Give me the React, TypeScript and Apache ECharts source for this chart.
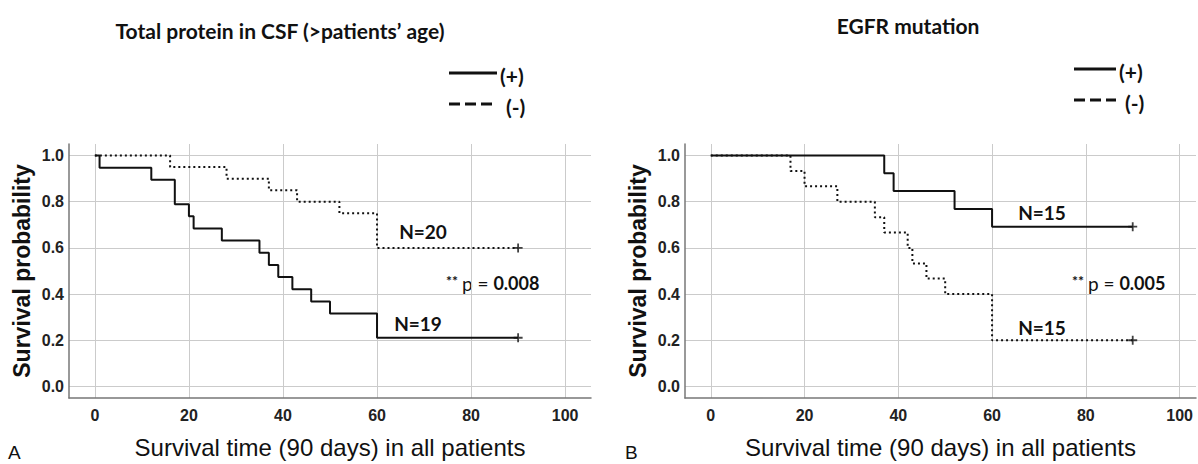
import React, { useEffect, useRef } from "react";
import * as echarts from "echarts";

// ---- data ----
const xTicks = [0, 20, 40, 60, 80, 100];
const yTicks = [0, 0.2, 0.4, 0.6, 0.8, 1.0];

const csfPosTime = [0, 1, 12, 17, 20, 21, 27, 35, 37, 39, 42, 46, 50, 60, 90];
const csfPosSurv = [1, 0.947, 0.895, 0.789, 0.737, 0.684, 0.632, 0.579, 0.526, 0.474, 0.421, 0.368, 0.316, 0.211, 0.211];
const csfNegTime = [0, 16, 28, 37, 43, 52, 60, 90];
const csfNegSurv = [1, 0.95, 0.9, 0.85, 0.8, 0.75, 0.6, 0.6];

const egfrPosTime = [0, 37, 39, 52, 60, 90];
const egfrPosSurv = [1, 0.923, 0.846, 0.769, 0.692, 0.692];
const egfrNegTime = [0, 17, 20, 27, 35, 37, 42, 43, 46, 50, 60, 90];
const egfrNegSurv = [1, 0.933, 0.867, 0.8, 0.733, 0.667, 0.6, 0.533, 0.467, 0.4, 0.2, 0.2];

const titles = ["Total protein in CSF (>patients\u2019 age)", "EGFR mutation"];
const legendLabels = ["(+)", "(-)"];
const nLabels = [["N=20", "N=19"], ["N=15", "N=15"]];
const pValues = ["0.008", "0.005"];
const panelLetters = ["A", "B"];
const xName = "Survival time (90 days) in all patients";
const yName = "Survival probability";

const zip = (t: number[], s: number[]) => t.map((v, i) => [v, s[i]]);
const PLUS = "path://M4,0H6V4H10V6H6V10H4V6H0V4H4Z";

export default function App() {
  const ref = useRef<HTMLDivElement>(null);
  useEffect(() => {
    if (!ref.current) return;
    const chart = echarts.init(ref.current, null, { renderer: "svg" });
    const tickFont = { fontFamily: "Liberation Sans", fontWeight: "bold" as const, fontSize: 16, color: "#222" };
    const mkX = (gridIndex: number, max: number) => ({
      type: "value", gridIndex, min: -5.5, max,
      axisLine: { show: true, onZero: false, lineStyle: { color: "#777", width: 1.5 } },
      axisTick: { show: false, customValues: xTicks },
      axisLabel: { ...tickFont, customValues: xTicks, margin: 9 },
      splitLine: { show: true, lineStyle: { color: "#cbcbcb", width: 1 } },
      name: xName, nameLocation: "middle", nameGap: 37,
      nameTextStyle: { fontFamily: "Liberation Sans", fontSize: 24, color: "#111" },
    });
    const mkY = (gridIndex: number) => ({
      type: "value", gridIndex, min: -0.05, max: 1.05,
      axisLine: { show: true, onZero: false, lineStyle: { color: "#777", width: 1.5 } },
      axisTick: { show: false, customValues: yTicks },
      axisLabel: { ...tickFont, customValues: yTicks, margin: 5, formatter: (v: number) => v.toFixed(1) },
      splitLine: { show: true, lineStyle: { color: "#cbcbcb", width: 1 } },
      name: yName, nameLocation: "middle", nameGap: 36,
      nameTextStyle: { fontFamily: "Liberation Sans", fontWeight: "bold", fontSize: 23, color: "#111" },
    });
    const solid = { color: "#111", width: 2, type: "solid" };
    const dotted = { color: "#111", width: 2, type: [2, 3], cap: "butt" };
    const km = (name: string, xi: number, data: number[][], ls: any) => ({
      type: "line", name, xAxisIndex: xi, yAxisIndex: xi, data, step: "end",
      showSymbol: false, symbol: "none", lineStyle: ls, silent: true,
    });
    const censor = (xi: number, data: number[][]) => ({
      type: "scatter", xAxisIndex: xi, yAxisIndex: xi, data, symbol: PLUS, symbolSize: 9,
      itemStyle: { color: "#111" }, silent: true,
    });
    const last = (t: number[], s: number[]) => [[t[t.length - 1], s[s.length - 1]]];

    const titleFont = "bold 21px Lato";
    const annFont = "bold 19px Lato";
    const legend = (x1: number, x2: number, y1: number, y2: number) => [
      { type: "line", shape: { x1, y1, x2, y2: y1 }, style: { stroke: "#111", lineWidth: 3 } },
      { type: "line", shape: { x1, y1: y2, x2, y2 }, style: { stroke: "#111", lineWidth: 3, lineDash: [11, 5] } },
      { type: "text", x: x2 + 3, y: y1 + 2, style: { text: legendLabels[0], font: titleFont, fill: "#111", verticalAlign: "middle" } },
      { type: "text", x: x2 + 9, y: y2 + 2, style: { text: legendLabels[1], font: titleFont, fill: "#111", verticalAlign: "middle" } },
    ];
    const pText = (x: number, y: number, p: string) => [
      { type: "text", x, y: y - 3, style: { text: "**", font: "bold 14px Lato", fill: "#111", verticalAlign: "middle" } },
      {
        type: "text", x: x + 16, y, style: {
          text: `{r|p = }{b|${p}}`, verticalAlign: "middle", fill: "#111",
          rich: { r: { font: "19px Lato", fill: "#111" }, b: { font: "bold 18px Lato", fill: "#111" } },
        },
      },
    ];
    const txt = (x: number, y: number, text: string, font: string, align = "center") => ({
      type: "text", x, y, style: { text, font, fill: "#111", align, verticalAlign: "middle" },
    });

    chart.setOption({
      animation: false,
      grid: [
        { left: 69, top: 144, width: 522, height: 259 },
        { left: 685, top: 144, width: 511, height: 259 },
      ],
      xAxis: [mkX(0, 105.5), mkX(1, 103.5)],
      yAxis: [mkY(0), mkY(1)],
      series: [
        km("(+)", 0, zip(csfPosTime, csfPosSurv), solid),
        km("(-)", 0, zip(csfNegTime, csfNegSurv), dotted),
        censor(0, [...last(csfPosTime, csfPosSurv), ...last(csfNegTime, csfNegSurv)]),
        km("(+)", 1, zip(egfrPosTime, egfrPosSurv), solid),
        km("(-)", 1, zip(egfrNegTime, egfrNegSurv), dotted),
        censor(1, [...last(egfrPosTime, egfrPosSurv), ...last(egfrNegTime, egfrNegSurv)]),
      ],
      graphic: [
        txt(280, 30, titles[0], titleFont),
        txt(908, 25, titles[1], titleFont),
        ...legend(449, 497, 73, 104),
        ...legend(1074, 1116, 69, 100),
        txt(423, 231, nLabels[0][0], annFont),
        txt(418, 323, nLabels[0][1], annFont),
        txt(1042, 212, nLabels[1][0], annFont),
        txt(1042, 327, nLabels[1][1], annFont),
        ...pText(446, 283, pValues[0]),
        ...pText(1072, 283, pValues[1]),
        txt(8, 452, panelLetters[0], "19px 'Liberation Sans'", "left"),
        txt(625, 452, panelLetters[1], "19px 'Liberation Sans'", "left"),
      ],
    });
    return () => chart.dispose();
  }, []);
  return <div ref={ref} style={{ position: "absolute", left: 0, top: 0, width: 1198, height: 464 }} />;
}
